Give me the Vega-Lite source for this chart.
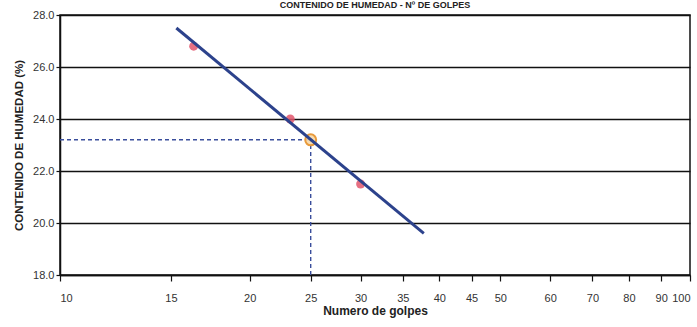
{
  "$schema": "https://vega.github.io/schema/vega-lite/v6.json",
  "autosize": {"type": "none"},
  "padding": {"left": 60, "top": 15, "right": 7, "bottom": 52},
  "width": 630,
  "height": 260,
  "background": "white",
  "title": {
    "text": "CONTENIDO DE HUMEDAD - Nº DE GOLPES",
    "font": "Liberation Sans",
    "fontSize": 9,
    "fontWeight": "bold",
    "color": "#222",
    "anchor": "middle",
    "frame": "group",
    "baseline": "bottom",
    "offset": -10
  },
  "config": {
    "view": {"stroke": "#111", "strokeWidth": 1.5},
    "axis": {
      "labelFont": "Liberation Sans",
      "titleFont": "Liberation Sans",
      "labelColor": "#333",
      "titleColor": "#222",
      "domainColor": "#111",
      "domainWidth": 1.5,
      "tickColor": "#111",
      "tickWidth": 1.2
    }
  },
  "datasets": {
    "puntos": [
      {"golpes": 16.3, "humedad": 26.8},
      {"golpes": 23.2, "humedad": 24.0},
      {"golpes": 30.0, "humedad": 21.5}
    ],
    "recta": [
      {"golpes": 15.3, "humedad": 27.5},
      {"golpes": 37.8, "humedad": 19.6}
    ],
    "guias": [
      {"guia": "h", "golpes": 10, "humedad": 23.2},
      {"guia": "h", "golpes": 25, "humedad": 23.2},
      {"guia": "v", "golpes": 25, "humedad": 18},
      {"guia": "v", "golpes": 25, "humedad": 23.2}
    ],
    "ll": [
      {"golpes": 25, "humedad": 23.2}
    ]
  },
  "encoding": {
    "x": {
      "field": "golpes",
      "type": "quantitative",
      "scale": {"type": "log", "domain": [10, 100], "nice": false},
      "axis": {
        "title": "Numero de golpes",
        "titleFontSize": 12,
        "titleFontWeight": "bold",
        "titlePadding": 2,
        "values": [10, 15, 20, 25, 30, 35, 40, 45, 50, 60, 70, 80, 90, 100],
        "format": "d",
        "labelFontSize": 11,
        "labelPadding": 11,
        "tickSize": 6,
        "grid": false
      }
    },
    "y": {
      "field": "humedad",
      "type": "quantitative",
      "scale": {"domain": [18, 28], "nice": false, "zero": false},
      "axis": {
        "title": "CONTENIDO DE HUMEDAD (%)",
        "titleFontSize": 11.5,
        "titleFontWeight": "bold",
        "titlePadding": 8,
        "values": [18, 20, 22, 24, 26, 28],
        "format": ".1f",
        "labelFontSize": 11,
        "labelPadding": 2,
        "tickSize": 4,
        "grid": true,
        "gridColor": "#111",
        "gridWidth": 1.5,
        "gridOpacity": 1
      }
    }
  },
  "layer": [
    {
      "data": {"name": "guias"},
      "mark": {"type": "line", "color": "#3a4e9c", "strokeWidth": 1.4, "strokeDash": [4, 3]},
      "encoding": {"detail": {"field": "guia"}}
    },
    {
      "data": {"name": "puntos"},
      "mark": {"type": "circle", "size": 80, "color": "#e2566c", "opacity": 0.85}
    },
    {
      "data": {"name": "ll"},
      "mark": {"type": "point", "shape": "circle", "size": 120, "stroke": "#e89a3c", "strokeWidth": 2, "fill": "#f6d8a8", "fillOpacity": 0.9, "opacity": 1}
    },
    {
      "data": {"name": "recta"},
      "mark": {"type": "line", "color": "#2c428c", "strokeWidth": 3}
    }
  ]
}
